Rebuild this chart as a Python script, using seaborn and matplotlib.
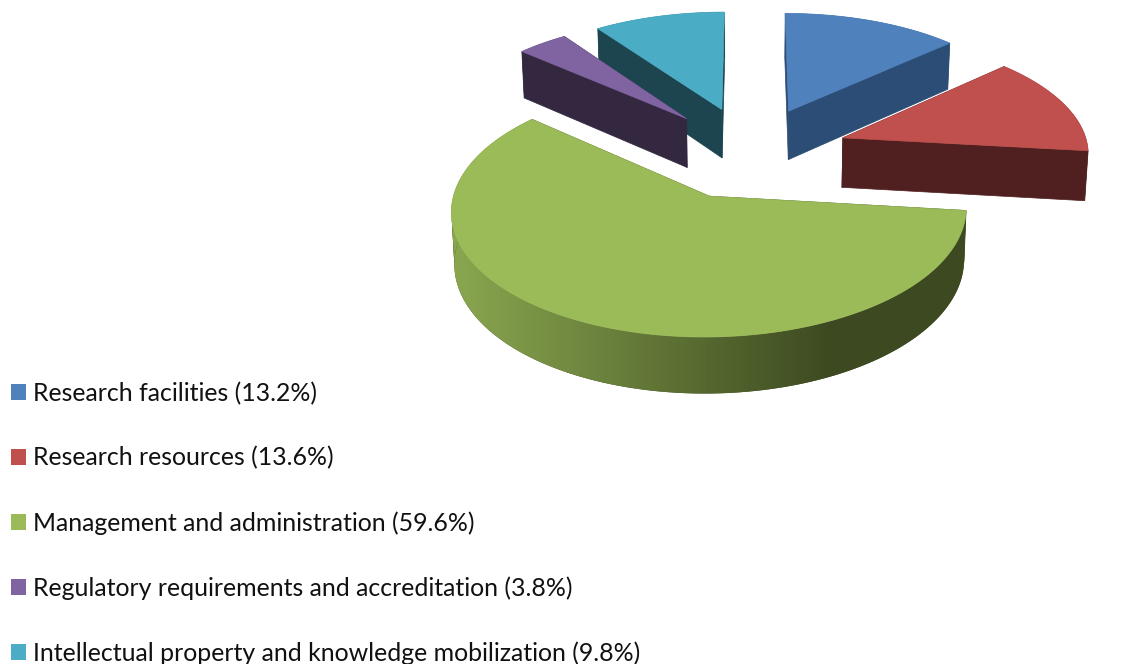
import numpy as np
import seaborn as sns
import matplotlib.pyplot as plt
from matplotlib.patches import Patch, Polygon

categories = ["Research facilities", "Research resources", "Management and administration",
              "Regulatory requirements and accreditation", "Intellectual property and knowledge mobilization"]
shares = [13.2, 13.6, 59.6, 3.8, 9.8]
top_colors = ["#4F81BD", "#C0504D", "#9BBB59", "#8064A2", "#4BACC6"]
side_colors = ["#2C4D75", "#4F201F", "#3D4A21", "#33283F", "#1D4550"]

sns.set_style("white")
plt.rcParams['font.family'] = ['Lato', 'DejaVu Sans']

# perspective of the pie, in pixels of the figure
cx, cy = 750.5, 152
rx, ry = 246, 116
persp = 0.105
explode = 0.4
depth = 50
shrink = 0.99


def project(u, v, low=False):
    s = 1 / (1 + persp * v)
    k = shrink if low else 1
    return cx + rx * u * s * k, cy - ry * v * s * k + (depth * s if low else 0)


def ring(mid, a, b, low=False):
    th = np.radians(np.linspace(a, b, max(int(b - a) * 2, 2) + 1))
    u0, v0 = explode * np.sin(np.radians(mid)), explode * np.cos(np.radians(mid))
    return np.column_stack(project(u0 + np.sin(th), v0 + np.cos(th), low))


def apex(mid, low=False):
    return np.array(project(explode * np.sin(np.radians(mid)), explode * np.cos(np.radians(mid)), low))


fig = plt.figure(figsize=(11.33, 6.64), dpi=100)
ax = fig.add_axes([0, 0, 1, 1])
ax.set_xlim(0, 1133)
ax.set_ylim(664, 0)
ax.axis("off")

ends = np.cumsum(shares) * 3.6
starts = np.r_[0, ends[:-1]]

# back to front, so purple sits over teal and red over blue
for i in [4, 3, 0, 1, 2]:
    a, b = starts[i], ends[i]
    mid = (a + b) / 2
    top = ring(mid, a, b)
    low = ring(mid, a, b, True)
    for j in [0, -1]:
        ax.add_patch(Polygon([apex(mid), top[j], low[j], apex(mid, True)],
                             fc=side_colors[i], ec=side_colors[i], lw=0.5))
    # split the rim where it turns round on screen, a folded polygon leaves holes
    cuts = sorted({0, int(np.argmin(top[:, 0])), int(np.argmax(top[:, 0])), len(top) - 1})
    for c0, c1 in zip(cuts[:-1], cuts[1:]):
        rim = Polygon(np.vstack([top[c0:c1 + 1], low[c0:c1 + 1][::-1]]),
                      fc=side_colors[i], ec="none")
        ax.add_patch(rim)
        if i == 2:
            # the big slice has a shaded rim, light on the left and dark on the right
            shade = sns.blend_palette(["#89A64F", side_colors[i]], as_cmap=True)
            grad = np.clip((np.arange(440, 985) - 455) / 375, 0, 1)
            im = ax.imshow(grad[None, :], cmap=shade, aspect="auto", zorder=1,
                           extent=(440, 985, 420, 200))
            im.set_clip_path(rim)
            ax.set_xlim(0, 1133)
            ax.set_ylim(664, 0)
    ax.add_patch(Polygon(np.vstack([apex(mid), top]), fc=top_colors[i], ec=top_colors[i], lw=0.5, zorder=2))

handles = [Patch(fc=c, ec="none") for c in top_colors]
labels = [f"{c} ({s}%)" for c, s in zip(categories, shares)]
ax.legend(handles, labels, loc="lower left", bbox_to_anchor=(11 / 1133, -1 / 664), frameon=False,
          fontsize=17.9, labelcolor="#111111", handlelength=0.6, handleheight=0.6,
          handletextpad=0.28, labelspacing=1.67, borderpad=0, borderaxespad=0)

plt.savefig("out.png", dpi=100)
